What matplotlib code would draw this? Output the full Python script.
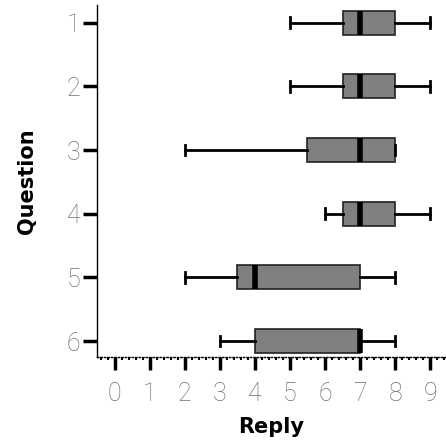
import matplotlib
matplotlib.use("Agg")
import matplotlib.pyplot as plt
from matplotlib.ticker import MultipleLocator

questions = [1, 2, 3, 4, 5, 6]
whislo = [5, 5, 2, 6, 2, 3]
q1 = [6.5, 6.5, 5.5, 6.5, 3.5, 4]
med = [7, 7, 7, 7, 4, 7]
q3 = [8, 8, 8, 8, 7, 7]
whishi = [9, 9, 8, 9, 8, 8]

stats = []
for i in range(len(questions)):
    stats.append(dict(label=str(questions[i]), whislo=whislo[i], q1=q1[i],
                      med=med[i], q3=q3[i], whishi=whishi[i], fliers=[]))

fig = plt.figure(figsize=(4.46, 4.44), dpi=100)
ax = fig.add_axes([0.2175, 0.196, 0.7825, 0.793])

ax.bxp(stats, positions=questions, vert=False, widths=0.375, patch_artist=True,
       showfliers=False,
       boxprops=dict(facecolor='#808080', edgecolor='#222222', linewidth=1.2),
       medianprops=dict(color='black', linewidth=4),
       whiskerprops=dict(color='black', linewidth=2),
       capprops=dict(color='black', linewidth=2),
       capwidths=0.17)

ax.set_xlim(-0.5, 9.45)
ax.set_ylim(6.25, 0.72)
ax.set_xticks(range(10))
ax.xaxis.set_minor_locator(MultipleLocator(0.2))
ax.set_yticks(questions)
ax.set_yticklabels([str(q) for q in questions])

for s in ['top', 'right']:
    ax.spines[s].set_visible(False)
ax.spines['left'].set_linewidth(1)
ax.spines['bottom'].set_linewidth(1)
ax.spines['bottom'].set_linestyle((0, (1, 1.5)))

ax.tick_params(axis='y', which='major', length=10, width=2.5, color='black',
               labelcolor='#6e6e6e', pad=2)
ax.tick_params(axis='x', which='major', length=9, width=2.5, color='black',
               labelcolor='#6e6e6e', pad=9)
ax.tick_params(axis='x', which='minor', length=2.5, width=1.5, color='black')
for lab in ax.get_xticklabels() + ax.get_yticklabels():
    lab.set_fontfamily(['Roboto', 'DejaVu Sans'])
    lab.set_fontweight('light')
    lab.set_fontsize(18)

ax.set_xlabel('Reply', fontsize=15, fontweight='bold', labelpad=8)
ax.set_ylabel('Question', fontsize=15, fontweight='bold', labelpad=21)

fig.savefig('out.png', dpi=100)
